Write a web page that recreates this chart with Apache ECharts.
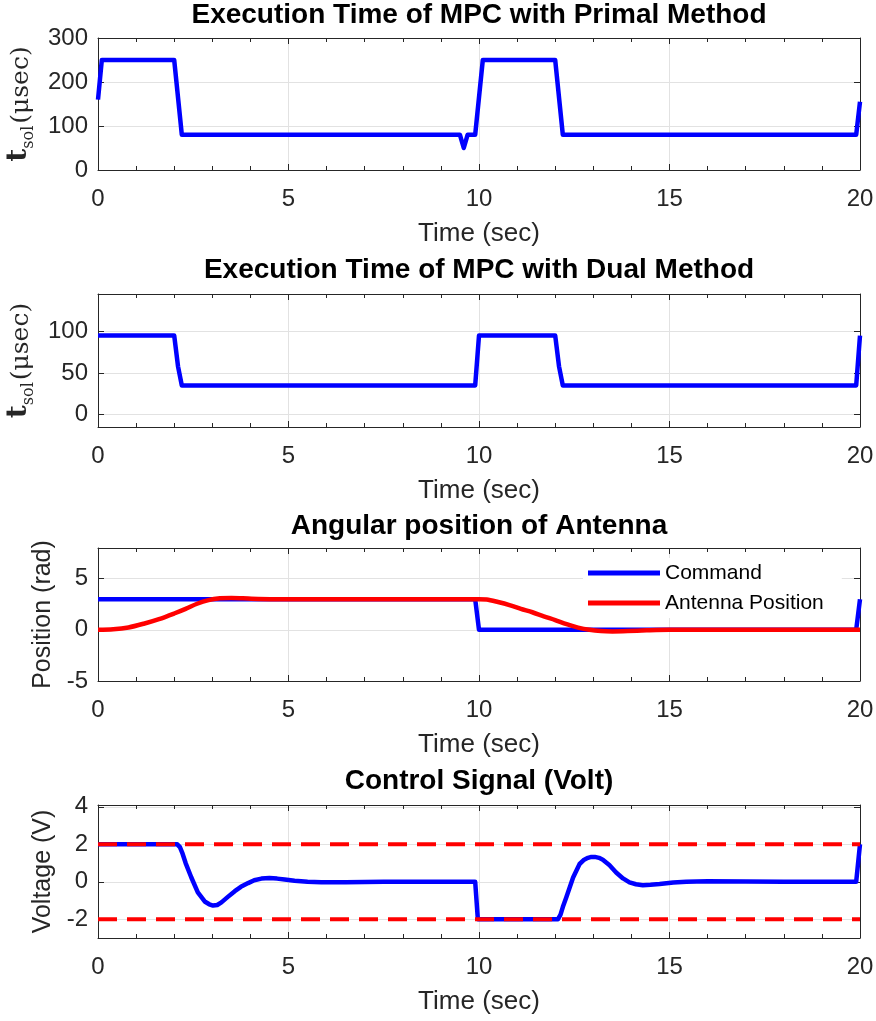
<!DOCTYPE html>
<html><head><meta charset="utf-8">
<script src="https://cdn.jsdelivr.net/npm/echarts@6/dist/echarts.min.js"></script>
<style>html,body{margin:0;padding:0;background:#fff}#c{width:876px;height:1021px}</style>
</head><body><div id="c"></div>
<script>
// ---------- data ----------
const xTicks = [0, 5, 10, 15, 20];
const yTicksPrimal = [0, 100, 200, 300];
const yTicksDual = [0, 50, 100];
const yTicksPos = [-5, 0, 5];
const yTicksVolt = [-2, 0, 2, 4];

const titles = ['Execution Time of MPC with Primal Method', 'Execution Time of MPC with Dual Method', 'Angular position of Antenna', 'Control Signal (Volt)'];
const seriesNames = ['Command', 'Antenna Position'];

const primalT = [0, 0.1, 2.0, 2.2, 9.5, 9.6, 9.7, 9.9, 10.1, 12.0, 12.2, 19.9, 20];
const primalV = [160, 250, 250, 80, 80, 50, 80, 80, 250, 250, 80, 80, 155];

const dualT = [0, 2.0, 2.1, 2.2, 9.9, 10.0, 12.0, 12.1, 12.2, 19.9, 20];
const dualV = [95, 95, 58, 35, 35, 95, 95, 58, 35, 35, 95];

const cmdT = [0, 9.9, 10.0, 19.9, 20];
const cmdV = [3, 3, 0, 0, 3];

const antT = [0, 0.4, 0.8, 1.2, 1.6, 2.0, 2.3, 2.6, 2.9, 3.2, 3.5, 3.8, 4.2, 4.8, 5.5, 10.0, 10.2, 10.5, 10.8, 11.1, 11.4, 11.7, 12.0, 12.3, 12.6, 12.9, 13.2, 13.5, 13.9, 14.4, 15.0, 20];
const antV = [0, 0.05, 0.23, 0.6, 1.05, 1.6, 2.05, 2.55, 2.9, 3.08, 3.12, 3.08, 3.02, 2.99, 3.0, 3.0, 2.97, 2.72, 2.42, 2.05, 1.72, 1.32, 0.95, 0.55, 0.22, 0.0, -0.12, -0.15, -0.12, -0.05, 0, 0];

const voltT = [0, 2.08, 2.15, 2.22, 2.3, 2.45, 2.62, 2.8, 2.92, 3.02, 3.13, 3.24, 3.4, 3.59, 3.75, 3.94, 4.1, 4.29, 4.5, 4.7, 4.9, 5.16, 5.5, 5.86, 6.5, 7.5, 9.9, 9.97, 12.07, 12.14, 12.2, 12.29, 12.47, 12.64, 12.76, 12.86, 12.95, 13.04, 13.15, 13.25, 13.42, 13.6, 13.78, 13.95, 14.12, 14.3, 14.5, 14.74, 15.1, 15.44, 16.0, 17.0, 18.0, 19.9, 20];
const voltV = [2, 2, 1.85, 1.5, 1.0, 0.23, -0.57, -1.05, -1.2, -1.27, -1.24, -1.1, -0.82, -0.5, -0.27, -0.07, 0.08, 0.17, 0.2, 0.17, 0.12, 0.06, 0.0, -0.03, -0.02, 0, 0, -2, -2, -1.75, -1.35, -0.84, 0.23, 0.95, 1.18, 1.28, 1.33, 1.33, 1.28, 1.18, 0.9, 0.5, 0.18, -0.03, -0.13, -0.18, -0.16, -0.12, -0.04, 0.0, 0.03, 0.02, 0, 0, 2];

const limT = [0, 20];
const upperV = [2, 2];
const lowerV = [-2, -2];

// ---------- helpers ----------
const pairs = (t, v) => t.map((x, i) => [x, v[i]]);
const FONT = 'Liberation Sans';
const AX = '#262626';
const GRIDC = '#e2e2e2';
const BLUE = '#0000ff';
const RED = '#ff0000';

const gridBox = [
  {top: 38, height: 132},
  {top: 294, height: 133},
  {top: 548, height: 133},
  {top: 805, height: 133}
];
const yRange = [[0, 300], [-15, 145], [-5, 8], [-3, 4.1]];
const yTicks = [yTicksPrimal, yTicksDual, yTicksPos, yTicksVolt];
const titleCenterY = [16, 271, 527, 782];

const tsolName = '{t|t}{s|sol}{p|(μsec)}';
const tsolRich = {
  t: {fontFamily: 'DejaVu Serif', fontWeight: 'bold', fontSize: 28, color: AX, verticalAlign: 'bottom', padding: [0, 0, 4, 0]},
  s: {fontFamily: 'DejaVu Serif', fontSize: 16, color: AX, verticalAlign: 'bottom', padding: [0, 2, 0, 0]},
  p: {fontFamily: 'DejaVu Serif', fontSize: 25, color: AX, verticalAlign: 'bottom', padding: [0, 0, 3, 0]}
};
const yNames = [tsolName, tsolName, 'Position (rad)', 'Voltage (V)'];
const yNameGaps = [56, 56, 41, 41];

const grids = gridBox.map(b => ({left: 98, width: 762, top: b.top, height: b.height, containLabel: false, outerBoundsMode: 'none'}));

const xAxes = [];
const yAxes = [];
for (let g = 0; g < 4; g++) {
  xAxes.push({
    type: 'value', gridIndex: g, position: 'bottom', min: 0, max: 20, interval: 5,
    axisLine: {show: true, onZero: false, lineStyle: {color: AX, width: 1}},
    axisTick: {show: true, inside: true, length: 6, lineStyle: {color: AX}},
    minorTick: {show: true, splitNumber: 5, length: 4, lineStyle: {color: AX}},
    splitLine: {show: true, lineStyle: {color: GRIDC, width: 1}},
    axisLabel: {show: true, color: AX, fontSize: 24, fontFamily: FONT, margin: 17},
    name: 'Time (sec)', nameLocation: 'middle', nameGap: 51,
    nameTextStyle: {color: AX, fontSize: 26, fontFamily: FONT}
  });
  xAxes.push({
    type: 'value', gridIndex: g, position: 'top', min: 0, max: 20, interval: 5,
    axisLine: {show: true, onZero: false, lineStyle: {color: AX, width: 1}},
    axisTick: {show: true, inside: true, length: 6, lineStyle: {color: AX}},
    minorTick: {show: true, splitNumber: 5, length: 4, lineStyle: {color: AX}},
    splitLine: {show: false},
    axisLabel: {show: false}
  });
  yAxes.push({
    type: 'value', gridIndex: g, position: 'left', min: yRange[g][0], max: yRange[g][1],
    axisLine: {show: true, onZero: false, lineStyle: {color: AX, width: 1}},
    axisTick: {show: true, inside: true, length: 6, lineStyle: {color: AX}, customValues: yTicks[g]},
    axisLabel: {show: true, color: AX, fontSize: 24, fontFamily: FONT, margin: 10, customValues: yTicks[g]},
    splitLine: {show: true, lineStyle: {color: GRIDC, width: 1}},
    name: yNames[g], nameLocation: 'middle', nameRotate: 90, nameGap: yNameGaps[g],
    nameTextStyle: g < 2 ? {color: AX, rich: tsolRich} : {color: AX, fontSize: 25, fontFamily: FONT}
  });
  yAxes.push({
    type: 'value', gridIndex: g, position: 'right', min: yRange[g][0], max: yRange[g][1],
    axisLine: {show: true, onZero: false, lineStyle: {color: AX, width: 1}},
    axisTick: {show: true, inside: true, length: 6, lineStyle: {color: AX}, customValues: yTicks[g]},
    axisLabel: {show: false},
    splitLine: {show: false}
  });
}

const lineSeries = (g, data, color, name, dashed) => ({
  type: 'line', name: name, xAxisIndex: g * 2, yAxisIndex: g * 2, data: data,
  symbol: 'none', showSymbol: false, animation: false,
  lineStyle: {color: color, width: dashed ? 4 : 4.5, type: dashed ? [19, 10] : 'solid', join: 'round'},
  itemStyle: {color: color}, z: dashed ? 3 : 2
});

const option = {
  backgroundColor: '#ffffff',
  animation: false,
  title: titles.map((t, i) => ({
    text: t, left: 479, top: titleCenterY[i] - 15, textAlign: 'center', padding: 0,
    textStyle: {fontFamily: FONT, fontWeight: 'bold', fontSize: 28, color: '#000'}
  })),
  legend: {
    data: seriesNames, orient: 'vertical', left: 583, top: 558,
    padding: [3, 18, 3, 5], itemGap: 6, itemWidth: 72, itemHeight: 5, icon: 'rect',
    backgroundColor: '#ffffff',
    textStyle: {fontFamily: FONT, fontSize: 21, color: '#000', lineHeight: 24}
  },
  grid: grids,
  xAxis: xAxes,
  yAxis: yAxes,
  series: [
    lineSeries(0, pairs(primalT, primalV), BLUE, 'primal'),
    lineSeries(1, pairs(dualT, dualV), BLUE, 'dual'),
    lineSeries(2, pairs(cmdT, cmdV), BLUE, seriesNames[0]),
    lineSeries(2, pairs(antT, antV), RED, seriesNames[1]),
    lineSeries(3, pairs(voltT, voltV), BLUE, 'voltage'),
    lineSeries(3, pairs(limT, upperV), RED, 'umax', true),
    lineSeries(3, pairs(limT, lowerV), RED, 'umin', true)
  ]
};
option.series[3].smooth = 0.3;

const chart = echarts.init(document.getElementById('c'), null, {renderer: 'canvas'});
chart.setOption(option);
</script>
</body></html>
